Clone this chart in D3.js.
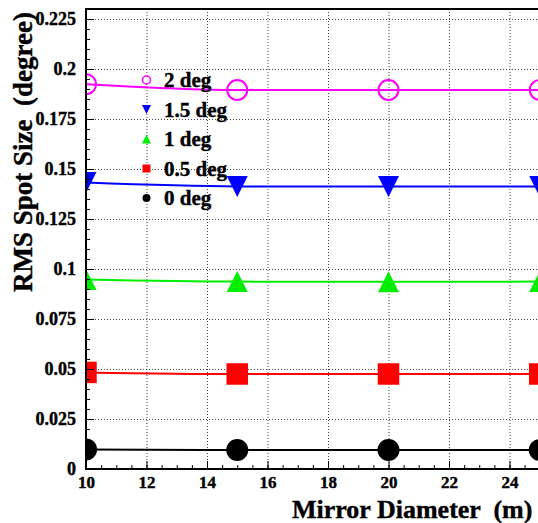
<!DOCTYPE html>
<html lang="en">
	<head>
		<meta charset="utf-8">
		<title>rms spot size</title>
		<script type="text/javascript" src="https://d3js.org/d3.v7.min.js"></script>
		<style type="text/css">
			body{margin:0;background:#fff;}
			svg{display:block;}
			svg text{font-family:"Liberation Serif","Times New Roman",serif;font-weight:bold;fill:#000;stroke:#000;stroke-width:0.4px;}
			.title{white-space:pre;}
			.grid line{stroke:#444;stroke-width:1;stroke-dasharray:1,2;}
			.grid path{display:none;}
		</style>
	</head>
	<body>
		<div id="chart1"></div>
		<script type="text/javascript">
			// mirror diameters (m) where the spot size was computed
			var diameters = [10, 15, 20, 25]
			// one RMS spot size series per field angle
			var seriesNames = ["2 deg", "1.5 deg", "1 deg", "0.5 deg", "0 deg"]
			var rms2deg = [0.1924, 0.1895, 0.1895, 0.1895]
			var rms15deg = [0.1432, 0.1413, 0.1413, 0.1413]
			var rms1deg = [0.0948, 0.0937, 0.0936, 0.0937]
			var rms05deg = [0.0483, 0.0475, 0.0475, 0.0475]
			var rms0deg = [0.0098, 0.0095, 0.0095, 0.0095]

			var xTicks = [10, 12, 14, 16, 18, 20, 22, 24]
			var yTicks = [0, 0.025, 0.05, 0.075, 0.1, 0.125, 0.15, 0.175, 0.2, 0.225]
			var yTickLabels = ["0", "0.025", "0.05", "0.075", "0.1", "0.125", "0.15", "0.175", "0.2", "0.225"]

			var w = 538
			var h = 523
			var padL = 86, padT = 9, padB = 469 // plot frame edges (px)

			var xScale = d3.scaleLinear()
				.domain([10, 26])
				.range([padL, padL + 16 * 30.25])
			var yScale = d3.scaleLinear()
				.domain([0, 0.23])
				.range([padB, padT])

			// marker shapes like ROOT's
			var triUp = {draw: function(ctx, size){
				var s = Math.sqrt(size)
				ctx.moveTo(0, -s/2); ctx.lineTo(s/2, s/2); ctx.lineTo(-s/2, s/2); ctx.closePath()
			}}
			var triDown = {draw: function(ctx, size){
				var s = Math.sqrt(size)
				ctx.moveTo(0, s/2); ctx.lineTo(s/2, -s/2); ctx.lineTo(-s/2, -s/2); ctx.closePath()
			}}

			var series = [
				{name: seriesNames[0], values: rms2deg, color: "#ff00ff", shape: d3.symbolCircle, open: true},
				{name: seriesNames[1], values: rms15deg, color: "#0000ff", shape: triDown},
				{name: seriesNames[2], values: rms1deg, color: "#00ee00", shape: triUp},
				{name: seriesNames[3], values: rms05deg, color: "#ff0000", shape: d3.symbolSquare},
				{name: seriesNames[4], values: rms0deg, color: "#000000", shape: d3.symbolCircle}
			]

			var svg = d3.select("#chart1")
				.append("svg")
				.attr("width", w)
				.attr("height", h)

			svg.append("defs").append("clipPath")
				.attr("id", "plotClip")
				.append("rect")
				.attr("x", padL).attr("y", padT)
				.attr("width", w - padL).attr("height", padB - padT)

			// dotted grid
			svg.append("g")
				.attr("class", "grid")
				.attr("transform", "translate(0," + padB + ")")
				.call(d3.axisBottom(xScale).tickValues(xTicks.slice(1)).tickSize(-(padB - padT)).tickFormat(""))
			svg.append("g")
				.attr("class", "grid")
				.attr("transform", "translate(" + padL + ",0)")
				.call(d3.axisLeft(yScale).tickValues(yTicks.slice(1)).tickSize(-(w - padL)).tickFormat(""))

			// data curves and markers
			var line = d3.line()
				.x(function(d){ return xScale(d.x) })
				.y(function(d){ return yScale(d.y) })
				.curve(d3.curveMonotoneX)

			var plot = svg.append("g").attr("clip-path", "url(#plotClip)")
			series.forEach(function(s){
				var pts = diameters.map(function(d, i){ return {x: d, y: s.values[i]} })
				plot.append("path")
					.attr("d", line(pts))
					.attr("fill", "none")
					.attr("stroke", s.color)
					.attr("stroke-width", 2)
				var size = s.shape === d3.symbolCircle ? Math.PI * 11 * 11 : (s.shape === d3.symbolSquare ? 22 * 21 : 21 * 21)
				if(s.open) size = Math.PI * 10 * 10
				plot.selectAll(null)
					.data(pts)
					.enter()
					.append("path")
					.attr("transform", function(d){ return "translate(" + xScale(d.x) + "," + yScale(d.y) + ")" })
					.attr("d", d3.symbol().type(s.shape).size(size))
					.attr("fill", s.open ? "none" : s.color)
					.attr("stroke", s.open ? s.color : "none")
					.attr("stroke-width", 2)
			})

			// axes with inward ticks
			var minorY = d3.range(0, 0.2301, 0.005)
			var minorX = d3.range(10, 26.01, 0.5)
			svg.append("g")
				.attr("transform", "translate(" + padL + ",0)")
				.call(d3.axisLeft(yScale).tickValues(minorY).tickSize(-4).tickSizeOuter(0).tickFormat(""))
				.call(function(g){ g.select(".domain").remove() })
			svg.append("g")
				.attr("transform", "translate(0," + padB + ")")
				.call(d3.axisBottom(xScale).tickValues(minorX).tickSize(-4).tickSizeOuter(0).tickFormat(""))
				.call(function(g){ g.select(".domain").remove() })

			var yAxis = svg.append("g")
				.attr("transform", "translate(" + padL + ",0)")
				.call(d3.axisLeft(yScale).tickValues(yTicks).tickSize(-8).tickSizeOuter(0).tickPadding(10)
					.tickFormat(function(d, i){ return yTickLabels[i] }))
			yAxis.select(".domain").attr("stroke-width", 2).attr("d", "M0," + (padT - 1) + "V" + (padB + 1))
			yAxis.selectAll("text").style("font-size", "18px")

			var xAxis = svg.append("g")
				.attr("transform", "translate(0," + padB + ")")
				.call(d3.axisBottom(xScale).tickValues(xTicks).tickSize(-8).tickSizeOuter(0).tickPadding(7))
			xAxis.select(".domain").attr("stroke-width", 2).attr("d", "M" + (padL - 1) + ",0H" + w)
			xAxis.selectAll("text").style("font-size", "17px")

			// top frame
			svg.append("line")
				.attr("x1", padL - 1).attr("x2", w)
				.attr("y1", padT).attr("y2", padT)
				.attr("stroke", "#000").attr("stroke-width", 2)

			// legend
			var legend = svg.append("g")
			series.forEach(function(s, i){
				var ly = 80 + i * 29.5
				var lsize = s.shape === d3.symbolCircle ? Math.PI * 4 * 4 : (s.shape === d3.symbolSquare ? 64 : 81)
				legend.append("path")
					.attr("transform", "translate(" + xScale(12) + "," + ly + ")")
					.attr("d", d3.symbol().type(s.shape).size(lsize))
					.attr("fill", s.open ? "#fff" : s.color)
					.attr("stroke", s.open ? s.color : "none")
					.attr("stroke-width", 1.5)
				legend.append("text")
					.attr("x", 164)
					.attr("y", ly + 7)
					.style("font-size", "21px")
					.text(s.name)
			})

			// axis titles
			svg.append("text")
				.attr("class", "title")
				.attr("x", 292)
				.attr("y", 518)
				.style("font-size", "26px")
				.text("Mirror Diameter  (m)")
			svg.append("text")
				.attr("class", "title")
				.attr("transform", "translate(32,292) rotate(-90)")
				.style("font-size", "27px")
				.text("RMS Spot Size  (degree)")
		</script>
	</body>
</html>
